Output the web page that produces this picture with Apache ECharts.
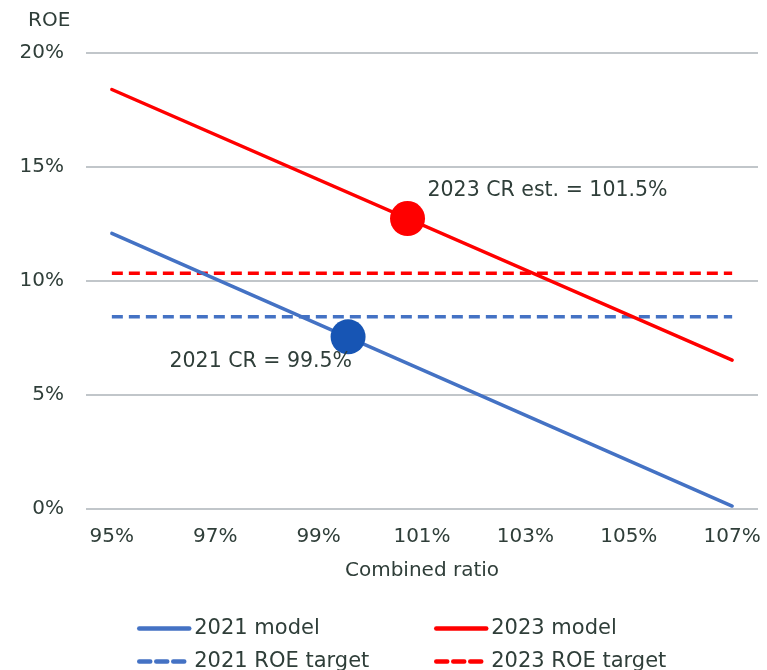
<!DOCTYPE html>
<html>
<head>
<meta charset="utf-8">
<script src="https://cdn.jsdelivr.net/npm/echarts@6/dist/echarts.min.js"></script>
<style>
html,body{margin:0;padding:0;background:#fff;}
#chart{width:767px;height:670px;}
</style>
</head>
<body>
<div id="chart"></div>
<script>
// Data
const crPoints = [95, 107];            // combined ratio, %
const model2021 = [12.09, 0.13];       // ROE %, 2021 model
const model2023 = [18.4, 6.53];        // ROE %, 2023 model
const target2021 = [8.43, 8.43];       // ROE target 2021
const target2023 = [10.34, 10.34];     // ROE target 2023
const marker2021 = [99.57, 7.55];      // 2021 CR point
const marker2023 = [100.72, 12.74];    // 2023 CR est. point
const label2021 = '2021 CR = 99.5%';
const label2023 = '2023 CR est. = 101.5%';
const yTicks = [0, 5, 10, 15, 20];
const seriesNames = ['2021 model', '2023 model', '2021 ROE target', '2023 ROE target'];

const FONT = 'DejaVu Sans';
const TXT = '#2f3e39';
const pairs = (ys) => crPoints.map((x, i) => [x, ys[i]]);

const chart = echarts.init(document.getElementById('chart'), null, {renderer: 'canvas'});

function legend(name, left, top) {
  return {
    data: [name], left: left, top: top, itemWidth: 50, itemHeight: 14, itemGap: 0,
    itemStyle: {opacity: 0, borderWidth: 0},
    lineStyle: {width: 4.5, cap: 'round'},
    textStyle: {fontFamily: FONT, fontSize: 21, color: TXT}, padding: 0, selectedMode: false
  };
}

chart.setOption({
  animation: false,
  backgroundColor: '#fff',
  textStyle: {fontFamily: FONT},
  title: {text: 'ROE', left: 28, top: 11, padding: 0,
    textStyle: {fontFamily: FONT, fontSize: 20, fontWeight: 'normal', color: TXT}},
  grid: {left: 86, right: 9, top: 53, bottom: 161, containLabel: false},
  legend: [
    legend(seriesNames[0], 137, 618),
    legend(seriesNames[1], 434, 618),
    legend(seriesNames[2], 137, 651),
    legend(seriesNames[3], 434, 651)
  ],
  xAxis: {
    type: 'value', min: 94.5, max: 107.5, interval: 0.5,
    name: 'Combined ratio', nameLocation: 'middle', nameGap: 52,
    nameTextStyle: {fontFamily: FONT, fontSize: 20, color: TXT},
    axisLine: {show: false}, axisTick: {show: false}, splitLine: {show: false},
    axisLabel: {
      margin: 18, fontFamily: FONT, fontSize: 20, color: TXT,
      formatter: (v) => {
        const r = Math.round(v * 10) / 10;
        return (Number.isInteger(r) && r % 2 === 1) ? r + '%' : '';
      }
    }
  },
  yAxis: {
    type: 'value', min: yTicks[0], max: yTicks[yTicks.length - 1], interval: 5,
    axisLine: {show: false}, axisTick: {show: false},
    splitLine: {lineStyle: {color: '#adb3b8', width: 1.5}},
    axisLabel: {margin: 22, fontFamily: FONT, fontSize: 20, color: TXT, formatter: '{value}%'}
  },
  series: [
    {name: seriesNames[0], type: 'line', data: pairs(model2021), symbol: 'none',
      lineStyle: {color: '#4472c4', width: 3.5, cap: 'round'}, itemStyle: {color: '#4472c4'}, z: 3},
    {name: seriesNames[1], type: 'line', data: pairs(model2023), symbol: 'none',
      lineStyle: {color: '#ff0000', width: 3.5, cap: 'round'}, itemStyle: {color: '#ff0000'}, z: 3},
    {name: seriesNames[2], type: 'line', data: pairs(target2021), symbol: 'none',
      lineStyle: {color: '#4472c4', width: 3.5, type: [11, 6]}, itemStyle: {color: '#4472c4'}, z: 2},
    {name: seriesNames[3], type: 'line', data: pairs(target2023), symbol: 'none',
      lineStyle: {color: '#ff0000', width: 3.5, type: [11, 6]}, itemStyle: {color: '#ff0000'}, z: 2},
    {name: 'm2021', type: 'scatter', data: [marker2021], symbolSize: 35, z: 5,
      itemStyle: {color: '#1755b4', opacity: 1},
      label: {show: true, position: 'inside', align: 'right', verticalAlign: 'middle', offset: [4, 25],
        formatter: label2021, fontFamily: FONT, fontSize: 20.5, color: TXT}},
    {name: 'm2023', type: 'scatter', data: [marker2023], symbolSize: 35, z: 5,
      itemStyle: {color: '#ff0000', opacity: 1},
      label: {show: true, position: 'inside', align: 'left', verticalAlign: 'middle', offset: [20, -28],
        formatter: label2023, fontFamily: FONT, fontSize: 20.5, color: TXT}}
  ]
});
</script>
</body>
</html>
